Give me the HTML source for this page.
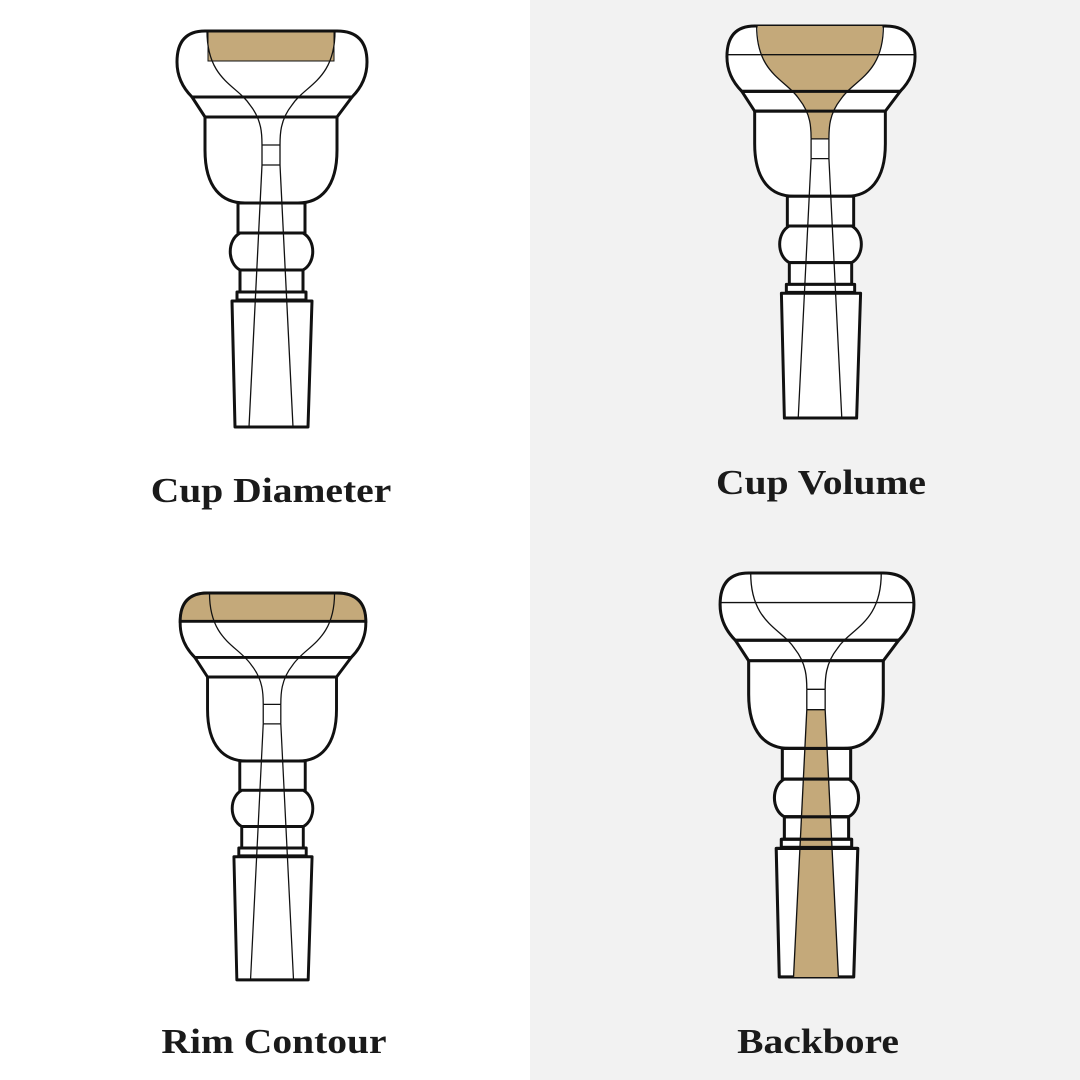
<!DOCTYPE html>
<html><head><meta charset="utf-8"><style>
html,body{margin:0;padding:0}
body{width:1080px;height:1080px;position:relative;background:#fff;overflow:hidden;font-family:"Liberation Serif",serif}
.rbg{position:absolute;left:530px;top:0;width:550px;height:1080px;background:#f2f2f2}
svg{position:absolute;left:0;top:0}
.lbl{position:absolute;font-weight:bold;font-size:35px;color:#1a1a1a;text-align:center;width:400px;transform:scaleX(1.13)}
</style></head><body>
<div class="rbg"></div>
<svg width="1080" height="1080" viewBox="0 0 1080 1080">
<defs>
<g id="mp" stroke="#111" fill="none" stroke-linejoin="round">
  <path d="M205,31 L337,31 Q367,31 367,62 Q367,82 352,97 L192,97 Q177,82 177,62 Q177,31 205,31 Z" fill="#fff" stroke-width="3"/>
  <path d="M192,97 L352,97 L337,117 L205,117 Z" fill="#fff" stroke-width="3"/>
  <path d="M205,117 L205,150 C205,188 222,203 245,203 L298,203 C320,203 337,188 337,150 L337,117 Z" fill="#fff" stroke-width="3"/>
  <path d="M238,203 L305,203 L305,233 L238,233 Z" fill="#fff" stroke-width="3"/>
  <path d="M240,233 L303,233 C316,240 316,263 303,270 L240,270 C227,263 227,240 240,233 Z" fill="#fff" stroke-width="3"/>
  <path d="M240,270 L303,270 L303,292 L240,292 Z" fill="#fff" stroke-width="3"/>
  <path d="M237,292 L306,292 L306,300 L237,300 Z" fill="#fff" stroke-width="3"/>
  <path d="M232,301 L312,301 L308,427 L235,427 Z" fill="#fff" stroke-width="3"/>
</g>
<g id="inner" stroke="#111" fill="none" stroke-width="1.3">
  <path d="M207,31 C207,80 237,85 250,105 C262,120 262,135 262,145"/>
  <path d="M335,31 C335,80 305,85 292,105 C280,120 280,135 280,145"/>
  <path d="M262,145 L280,145 M262,165 L280,165 M262,145 L262,165 M280,145 L280,165"/>
  <path d="M262,165 L249,427 M280,165 L293,427"/>
</g>
</defs>

<g>
  <use href="#mp"/>
  <rect x="208" y="32" width="126" height="29" fill="#c4a97a" stroke="#111" stroke-width="1"/>
  <use href="#inner"/>
</g>

<g transform="translate(821,25) scale(0.99) translate(-272,-30)">
  <use href="#mp"/>
  <path d="M208,31 L334,31 C335,80 305,85 292,105 C280,120 280,135 280,145 L262,145 C262,135 262,120 250,105 C237,85 207,80 208,31 Z" fill="#c4a97a"/>
  <line x1="178" y1="60" x2="366" y2="60" stroke="#111" stroke-width="1.3"/>
  <path d="M192,97 L352,97 M205,117 L337,117" stroke="#111" stroke-width="3"/>
  <use href="#inner"/>
</g>

<g transform="translate(273,592) scale(0.977) translate(-272,-30)">
  <use href="#mp"/>
  <path d="M205,31 L337,31 Q367,31 367,60 L177,60 Q177,31 205,31 Z" fill="#c4a97a" stroke="#111" stroke-width="3"/>
  <line x1="178" y1="60" x2="366" y2="60" stroke="#111" stroke-width="1.3"/>
  <use href="#inner"/>
</g>

<g transform="translate(817,572) scale(1.02) translate(-272,-30)">
  <use href="#mp"/>
  <path d="M262,165 L280,165 L293,427 L249,427 Z" fill="#c4a97a"/>
  <line x1="178" y1="60" x2="366" y2="60" stroke="#111" stroke-width="1.3"/>
  <path d="M238,203 L305,203 M240,233 L303,233 M240,270 L303,270 M237,292 L306,292 M237,300 L306,300 M232,301 L312,301" stroke="#111" stroke-width="3"/>
  <use href="#inner"/>
</g>
</svg>
<div class="lbl" style="left:71px;top:471px">Cup Diameter</div>
<div class="lbl" style="left:621px;top:463px">Cup Volume</div>
<div class="lbl" style="left:74px;top:1022px">Rim Contour</div>
<div class="lbl" style="left:618px;top:1022px">Backbore</div>
</body></html>
